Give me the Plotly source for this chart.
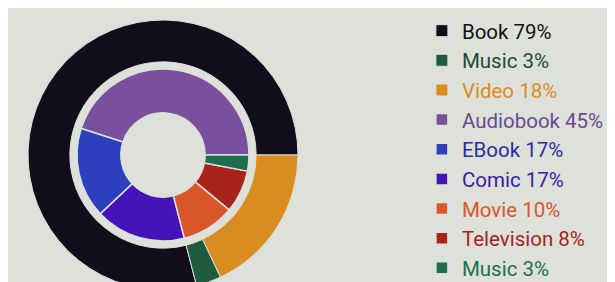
import plotly.graph_objects as go

outer_labels = ["Book 79%", "Music 3%", "Video 18%"]
outer_values = [79, 3, 18]
outer_colors = ["#120d1a", "#1d5a3e", "#d98c1f"]
outer_text_colors = ["#111111", "#1d4a35", "#d98c1f"]

inner_labels = ["Audiobook 45%", "EBook 17%", "Comic 17%", "Movie 10%", "Television 8%", "Music 3%"]
inner_values = [45, 17, 17, 10, 8, 3]
inner_colors = ["#7a4f9e", "#2b3fbf", "#4514b8", "#d9562a", "#a8231c", "#1e6e50"]
inner_text_colors = ["#6a4a8c", "#2b2e9e", "#3a1aa8", "#d9562a", "#a8231c", "#1e6e50"]

BG = "#dde1da"
W, H = 615, 282


def styled(labels, colors):
    return [f"<span style='color:{c}'>{l}</span>" for l, c in zip(labels, colors)]


def dom(cx, cy, r):
    return dict(x=[(cx - r) / W, (cx + r) / W], y=[1 - (cy + r) / H, 1 - (cy - r) / H])


def start_rot(values):
    # first slice begins at 3 o'clock and runs counterclockwise
    return 90 - 360 * values[0] / sum(values)


fig = go.Figure()
fig.add_trace(go.Pie(
    labels=styled(outer_labels, outer_text_colors), values=outer_values,
    marker=dict(colors=outer_colors, line=dict(color=BG, width=1)),
    hole=0.69, sort=False, direction="counterclockwise", rotation=start_rot(outer_values),
    textinfo="none", domain=dom(155, 147, 135),
))
fig.add_trace(go.Pie(
    labels=styled(inner_labels, inner_text_colors), values=inner_values,
    marker=dict(colors=inner_colors, line=dict(color=BG, width=1.5)),
    hole=0.49, sort=False, direction="counterclockwise", rotation=start_rot(inner_values),
    textinfo="none", domain=dom(155, 147, 86),
))
fig.update_layout(
    width=W, height=H, margin=dict(l=0, r=0, t=0, b=0),
    paper_bgcolor=BG, plot_bgcolor=BG,
    font=dict(family="Roboto", size=20.5, color="#111111"),
    legend=dict(x=0.673, y=0.99, xanchor="left", yanchor="top", traceorder="normal",
                bgcolor="rgba(0,0,0,0)", tracegroupgap=0),
    showlegend=True,
)
fig.write_html("out.html")
